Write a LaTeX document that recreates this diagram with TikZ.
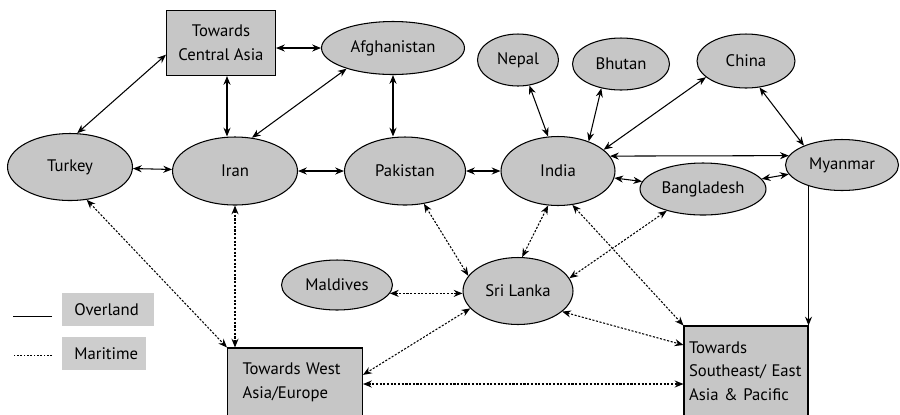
\documentclass[tikz,border=0pt]{standalone}
\usepackage{fontspec}
\setmainfont{PT Sans}
\usetikzlibrary{shapes.geometric,arrows.meta}
\definecolor{fillgrey}{RGB}{198,198,198}
\definecolor{leggrey}{RGB}{205,205,205}
\begin{document}
\begin{tikzpicture}[x=0.02cm,y=-0.02cm,
  font=\fontsize{9.5}{13.5}\selectfont,
  country/.style={ellipse,draw,line width=0.6pt,fill=fillgrey,inner sep=0pt},
  region/.style={rectangle,draw,line width=0.6pt,fill=fillgrey},
  legbox/.style={rectangle,fill=leggrey,inner xsep=0.24cm,inner ysep=0pt,anchor=west,align=left},
  land/.style={line width=0.6pt,{Stealth[length=5pt,width=4pt]}-{Stealth[length=5pt,width=4pt]}},
  landone/.style={line width=0.6pt,-{Stealth[length=5pt,width=4pt]}},
  sea/.style={land,dash pattern=on 1.2pt off 0.9pt}]
\useasboundingbox (0,0) rectangle (900,414);

% regions
\node[region,minimum width=2.18cm,minimum height=1.30cm,align=center,inner sep=0pt] (ca) at (221,43) {Towards\\Central Asia};
\node[region,minimum width=2.70cm,minimum height=1.36cm,text width=2.1cm,inner xsep=0.3cm,align=left] (wa) at (295,382) {Towards West\\Asia/Europe};
\node[region,minimum width=2.48cm,minimum height=1.80cm,text width=2.28cm,inner xsep=0.1cm,align=left] (se) at (746,371) {Towards\\Southeast/ East\\Asia \& Pacific};

% countries
\node[country,minimum width=2.86cm,minimum height=1.06cm] (af) at (393,48) {Afghanistan};
\node[country,minimum width=1.62cm,minimum height=1.04cm] (ne) at (518,60) {Nepal};
\node[country,minimum width=1.94cm,minimum height=1.04cm] (bh) at (621,64) {Bhutan};
\node[country,minimum width=1.96cm,minimum height=1.08cm] (ch) at (746,61) {China};
\node[country,minimum width=2.50cm,minimum height=1.34cm] (tu) at (70,167) {Turkey};
\node[country,minimum width=2.50cm,minimum height=1.36cm] (ir) at (235,171) {Iran};
\node[country,minimum width=2.42cm,minimum height=1.36cm] (pk) at (405,171) {Pakistan};
\node[country,minimum width=2.28cm,minimum height=1.38cm] (in) at (558,171) {India};
\node[country,minimum width=2.26cm,minimum height=1.02cm] (my) at (842,165) {Myanmar};
\node[country,minimum width=2.52cm,minimum height=1.04cm] (bd) at (703,189) {Bangladesh};
\node[country,minimum width=2.22cm,minimum height=1.00cm] (ma) at (337,285) {Maldives};
\node[country,minimum width=2.20cm,minimum height=1.34cm] (sl) at (518,291) {Sri Lanka};

% legend
\node[legbox,minimum width=1.84cm,minimum height=0.66cm,text width=1.36cm] (lo) at (62,309.5) {Overland};
\node[legbox,minimum width=1.68cm,minimum height=0.66cm,text width=1.20cm] (lm) at (62,353.5) {Maritime};
\draw[line width=0.5pt] ([xshift=-0.2cm,yshift=-0.13cm]lo.west) -- ++(-39,0);
\draw[line width=0.5pt,dash pattern=on 1pt off 0.9pt] ([xshift=-0.2cm,yshift=-0.03cm]lm.west) -- ++(-39,0);

% overland connections
\draw[land] (tu.78) -- (ca.192);
\draw[land] (ca.east |- af.west) -- (af.west);
\draw[land] ([xshift=0.12cm]ca.south) -- ([xshift=0.12cm]ca.south |- ir.north);
\draw[land] (ir.63) -- (af.204);
\draw[land] (af.south) -- (af.south |- pk.north);
\draw[land] (tu) -- (ir);
\draw[land] (ir) -- (pk);
\draw[land] (pk) -- (in);
\draw[land] (ne.-66) -- (in.106);
\draw[land] (bh.231) -- (in.44);
\draw[land] (ch.202) -- (in.25);
\draw[land] (ch.-63) -- (my.153);
\draw[land] (in.16) -- (my.170);
\draw[land] (in) -- (bd);
\draw[land] (bd) -- (my);
\draw[landone] (my.-150 -| se.north east) -- (se.north east);

% maritime connections
\draw[sea] (tu.-63) -- (wa.north west);
\draw[sea] (ir.south) -- (ir.south |- wa.north);
\draw[sea] (pk.-60) -- (sl.163);
\draw[sea] (in.254) -- (sl.83);
\draw[sea] (in.-67) -- (se.north west);
\draw[sea] (bd.211) -- (sl.14);
\draw[sea] (ma.-9) -- (ma.-9 -| sl.west);
\draw[sea] (sl.200) -- (wa.6);
\draw[sea] (sl.-25) -- (se.west |- 0,345);
\draw[sea] (wa.east |- 0,384) -- (se.west |- 0,384);
\end{tikzpicture}
\end{document}
